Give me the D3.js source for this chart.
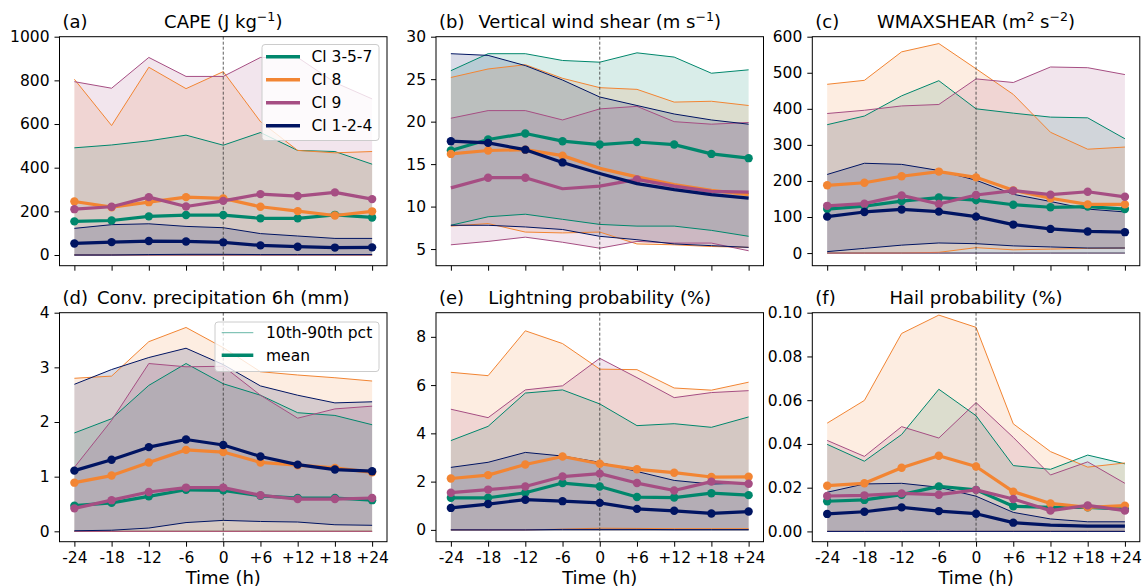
<!DOCTYPE html>
<html>
<head>
<meta charset="utf-8">
<script src="https://cdn.jsdelivr.net/npm/d3@7"></script>
<style>
  body { margin: 0; background: #fff; }
  text { font-family: "DejaVu Sans", sans-serif; }
</style>
</head>
<body>
<svg id="fig" width="1143" height="588"></svg>
<script>
// time steps relative to the event
var hours = [-24, -18, -12, -6, 0, 6, 12, 18, 24];
var hourLabels = ["-24", "-18", "-12", "-6", "0", "+6", "+12", "+18", "+24"];
var classes = ["Cl 3-5-7", "Cl 8", "Cl 9", "Cl 1-2-4"];
var colors = ["#00876c", "#f28533", "#a64e83", "#001462"];

// (a) CAPE  -- rows: Cl 3-5-7, Cl 8, Cl 9, Cl 1-2-4
var capeMean = [
  [154, 158, 177, 183, 183, 168, 168, 184, 172],
  [245, 219, 242, 265, 259, 221, 201, 181, 200],
  [210, 221, 265, 222, 248, 279, 270, 287, 256],
  [53, 59, 64, 62, 58, 44, 38, 34, 35]];
var capeP90 = [
  [491, 504, 523, 549, 503, 561, 479, 474, 416],
  [805, 593, 860, 762, 840, 611, 479, 468, 474],
  [794, 764, 905, 818, 818, 905, 905, 790, 715],
  [122, 139, 143, 131, 125, 98, 87, 76, 76]];
var capeP10 = [
  [0, 0, 0, 0, 0, 0, 0, 0, 0],
  [0, 0, 0, 0, 0, 0, 0, 0, 0],
  [0, 0, 0, 0, 0, 0, 0, 0, 0],
  [0, 0, 2, 3, 3, 2, 2, 2, 2]];

// (b) vertical wind shear
var shearMean = [
  [16.6, 17.9, 18.6, 17.7, 17.3, 17.6, 17.3, 16.2, 15.7],
  [16.2, 16.6, 16.7, 16.0, 14.5, 13.5, 12.6, 11.9, 11.4],
  [12.2, 13.4, 13.4, 12.1, 12.4, 13.2, 12.4, 11.8, 11.7],
  [17.7, 17.5, 16.7, 15.2, 13.9, 12.7, 12.0, 11.4, 11.0]];
var shearP90 = [
  [26.0, 28.0, 28.0, 27.2, 27.0, 28.1, 27.6, 25.7, 26.1],
  [25.2, 26.2, 26.7, 25.1, 24.0, 23.8, 22.3, 22.4, 21.9],
  [20.4, 21.3, 21.3, 20.2, 21.5, 21.8, 20.0, 19.7, 19.9],
  [28.0, 27.8, 26.6, 24.9, 22.9, 21.9, 20.9, 20.2, 19.7]];
var shearP10 = [
  [7.8, 8.8, 9.1, 8.5, 7.9, 7.7, 7.7, 7.2, 6.5],
  [7.7, 8.0, 7.0, 6.9, 7.0, 5.6, 5.5, 5.3, 5.2],
  [5.5, 5.9, 6.4, 5.8, 5.1, 5.9, 5.7, 5.7, 4.8],
  [7.8, 7.8, 7.6, 7.3, 6.5, 6.1, 5.6, 5.4, 5.2]];
var shearMarks = [
  [1, 1, 1, 1, 1, 1, 1, 1, 1],
  [1, 1, 1, 1, 0, 0, 0, 0, 0],
  [0, 1, 1, 0, 0, 1, 0, 0, 0],
  [1, 1, 1, 1, 0, 0, 0, 0, 0]];

// (c) WMAXSHEAR
var wmaxMean = [
  [122, 130, 144, 154, 147, 134, 127, 129, 122],
  [188, 195, 213, 226, 210, 174, 152, 135, 135],
  [131, 137, 160, 136, 161, 173, 162, 170, 156],
  [101, 114, 121, 115, 101, 79, 67, 60, 58]];
var wmaxP90 = [
  [356, 380, 436, 478, 400, 388, 377, 375, 317],
  [468, 479, 558, 581, 511, 440, 335, 288, 294],
  [387, 396, 408, 412, 483, 473, 516, 514, 495],
  [218, 249, 246, 229, 202, 163, 143, 122, 114]];
var wmaxP10 = [
  [0, 0, 0, 0, 0, 0, 0, 0, 0],
  [0, 0, 0, 2, 15, 9, 11, 13, 14],
  [0, 0, 0, 0, 0, 0, 0, 0, 0],
  [4, 13, 22, 28, 26, 20, 17, 14, 14]];

// (d) convective precipitation 6h
var precMean = [
  [0.47, 0.52, 0.64, 0.76, 0.75, 0.65, 0.61, 0.61, 0.57],
  [0.89, 1.02, 1.26, 1.49, 1.45, 1.26, 1.21, 1.16, 1.08],
  [0.42, 0.57, 0.72, 0.80, 0.80, 0.66, 0.59, 0.59, 0.61],
  [1.11, 1.31, 1.54, 1.68, 1.58, 1.37, 1.22, 1.13, 1.10]];
var precP90 = [
  [1.80, 2.06, 2.67, 3.07, 2.70, 2.49, 2.17, 2.12, 1.95],
  [2.80, 2.84, 3.47, 3.73, 3.36, 2.92, 2.86, 2.81, 2.75],
  [1.17, 2.03, 3.07, 3.01, 3.02, 2.49, 2.07, 2.24, 2.29],
  [2.69, 2.96, 3.18, 3.35, 3.05, 2.66, 2.49, 2.35, 2.37]];
var precP10 = [
  [0, 0, 0, 0, 0, 0, 0, 0, 0],
  [0, 0, 0, 0, 0, 0, 0, 0, 0],
  [0, 0, 0, 0, 0, 0, 0, 0, 0],
  [0.01, 0.02, 0.06, 0.16, 0.20, 0.18, 0.17, 0.12, 0.11]];

// (e) lightning probability
var lightMean = [
  [1.33, 1.33, 1.54, 1.94, 1.80, 1.36, 1.34, 1.52, 1.44],
  [2.13, 2.27, 2.71, 3.04, 2.74, 2.51, 2.37, 2.19, 2.20],
  [1.54, 1.67, 1.80, 2.21, 2.33, 1.94, 1.63, 2.00, 1.91],
  [0.91, 1.07, 1.25, 1.19, 1.12, 0.87, 0.79, 0.68, 0.76]];
var lightP90 = [
  [3.70, 4.29, 5.67, 5.80, 5.22, 4.32, 4.40, 4.25, 4.68],
  [6.53, 6.39, 8.25, 7.72, 6.66, 6.64, 5.88, 5.79, 6.12],
  [5.00, 4.65, 5.80, 5.97, 7.11, 6.31, 5.48, 5.69, 5.77],
  [2.59, 2.80, 3.21, 3.06, 2.80, 2.42, 2.05, 1.90, 1.94]];
var lightP10 = [
  [0, 0, 0, 0, 0, 0, 0, 0, 0],
  [0, 0, 0, 0.03, 0.07, 0.06, 0.05, 0.05, 0.05],
  [0, 0, 0, 0, 0, 0, 0, 0, 0],
  [0, 0, 0, 0.02, 0.02, 0.02, 0.01, 0.01, 0.01]];

// (f) hail probability
var hailMean = [
  [0.0138, 0.0144, 0.0168, 0.0206, 0.0190, 0.0115, 0.0110, 0.0110, 0.0102],
  [0.0209, 0.0220, 0.0291, 0.0346, 0.0297, 0.0182, 0.0128, 0.0110, 0.0118],
  [0.0162, 0.0165, 0.0174, 0.0168, 0.0190, 0.0148, 0.0095, 0.0119, 0.0095],
  [0.0080, 0.0090, 0.0110, 0.0093, 0.0081, 0.0040, 0.0029, 0.0024, 0.0024]];
var hailP90 = [
  [0.0398, 0.0321, 0.0443, 0.0650, 0.0529, 0.0301, 0.0284, 0.0349, 0.0309],
  [0.0495, 0.0599, 0.0905, 0.0989, 0.0933, 0.0492, 0.0365, 0.0294, 0.0313],
  [0.0416, 0.0343, 0.0479, 0.0427, 0.0589, 0.0430, 0.0258, 0.0318, 0.0220],
  [0.0179, 0.0217, 0.0220, 0.0202, 0.0161, 0.0087, 0.0057, 0.0044, 0.0044]];
var hailP10 = [
  [0, 0, 0, 0, 0, 0, 0, 0, 0],
  [0, 0, 0, 0, 0, 0, 0, 0, 0],
  [0, 0, 0, 0, 0, 0, 0, 0, 0],
  [0, 0, 0, 0, 0, 0, 0, 0, 0]];
var hailMarks = [
  [1, 1, 1, 1, 1, 1, 1, 1, 1],
  [1, 1, 1, 1, 1, 1, 1, 1, 1],
  [1, 1, 1, 1, 1, 1, 1, 1, 1],
  [1, 1, 1, 1, 1, 1, 0, 0, 0]];

var allMarks = [1, 1, 1, 1].map(function () { return hours.map(function () { return 1; }); });

var panels = [
  { label: "(a)", title: [["CAPE (J kg", 0], ["\u22121", 1], [")", 0]],
    mean: capeMean, p10: capeP10, p90: capeP90, marks: allMarks,
    yDomain: [-49, 1000], yTicks: [0, 200, 400, 600, 800, 1000], fmt: d3.format("d") },
  { label: "(b)", title: [["Vertical wind shear (m s", 0], ["\u22121", 1], [")", 0]],
    mean: shearMean, p10: shearP10, p90: shearP90, marks: shearMarks,
    yDomain: [3.04, 30], yTicks: [5, 10, 15, 20, 25, 30], fmt: d3.format("d") },
  { label: "(c)", title: [["WMAXSHEAR (m", 0], ["2", 1], [" s", 0], ["\u22122", 1], [")", 0]],
    mean: wmaxMean, p10: wmaxP10, p90: wmaxP90, marks: allMarks,
    yDomain: [-35, 600], yTicks: [0, 100, 200, 300, 400, 500, 600], fmt: d3.format("d") },
  { label: "(d)", title: [["Conv. precipitation 6h (mm)", 0]],
    mean: precMean, p10: precP10, p90: precP90, marks: allMarks,
    yDomain: [-0.19, 4], yTicks: [0, 1, 2, 3, 4], fmt: d3.format("d") },
  { label: "(e)", title: [["Lightning probability (%)", 0]],
    mean: lightMean, p10: lightP10, p90: lightP90, marks: allMarks,
    yDomain: [-0.49, 9], yTicks: [0, 2, 4, 6, 8], fmt: d3.format("d") },
  { label: "(f)", title: [["Hail probability (%)", 0]],
    mean: hailMean, p10: hailP10, p90: hailP90, marks: hailMarks,
    yDomain: [-0.0047, 0.10], yTicks: [0, 0.02, 0.04, 0.06, 0.08, 0.10], fmt: d3.format(".2f") }
];

var svg = d3.select("#fig");
svg.append("rect").attr("width", 1143).attr("height", 588).attr("fill", "#fff");

var lefts = [59.5, 436, 812.3], tops = [36.7, 312.7];
var w = 327.5, h = 229;
var tickFont = 15.5, titleFont = 18;

panels.forEach(function (p, i) {
  var x0 = lefts[i % 3], y0 = tops[Math.floor(i / 3)];
  var x = d3.scaleLinear().domain([-26.4, 26.4]).range([x0, x0 + w]);
  var y = d3.scaleLinear().domain(p.yDomain).range([y0 + h, y0]);
  var g = svg.append("g");

  // 10th-90th percentile bands
  classes.forEach(function (c, k) {
    var area = d3.area()
      .x(function (d, j) { return x(hours[j]); })
      .y0(function (d, j) { return y(p.p10[k][j]); })
      .y1(function (d) { return y(d); });
    g.append("path").datum(p.p90[k]).attr("d", area)
      .attr("fill", colors[k]).attr("fill-opacity", 0.15);
  });

  var line = d3.line().x(function (d, j) { return x(hours[j]); }).y(function (d) { return y(d); });
  classes.forEach(function (c, k) {
    [p.p10[k], p.p90[k]].forEach(function (arr) {
      g.append("path").datum(arr).attr("d", line)
        .attr("fill", "none").attr("stroke", colors[k]).attr("stroke-width", 1);
    });
  });

  // event time
  g.append("line").attr("x1", x(0)).attr("x2", x(0)).attr("y1", y0).attr("y2", y0 + h)
    .attr("stroke", "#333").attr("stroke-width", 0.8).attr("stroke-dasharray", "3,2");

  // means
  classes.forEach(function (c, k) {
    g.append("path").datum(p.mean[k]).attr("d", line)
      .attr("fill", "none").attr("stroke", colors[k]).attr("stroke-width", 3.2)
      .attr("stroke-linejoin", "round");
    g.selectAll(null).data(p.mean[k].map(function (v, j) { return { v: v, j: j }; })
        .filter(function (d) { return p.marks[k][d.j]; }))
      .enter().append("circle")
      .attr("cx", function (d) { return x(hours[d.j]); })
      .attr("cy", function (d) { return y(d.v); })
      .attr("r", 4.2).attr("fill", colors[k]);
  });

  // axes
  var xAxis = d3.axisBottom(x).tickValues(hours).tickSize(5).tickPadding(5).tickSizeOuter(0)
    .tickFormat(function (d, j) { return i < 3 ? "" : hourLabels[j]; });
  var gx = svg.append("g").attr("transform", "translate(0," + (y0 + h) + ")").call(xAxis);
  var yAxis = d3.axisLeft(y).tickValues(p.yTicks).tickSize(5).tickPadding(5).tickSizeOuter(0)
    .tickFormat(p.fmt);
  var gy = svg.append("g").attr("transform", "translate(" + x0 + ",0)").call(yAxis);
  [gx, gy].forEach(function (ax) {
    ax.select(".domain").remove();
    ax.attr("font-size", tickFont).attr("font-family", "DejaVu Sans, sans-serif");
    ax.selectAll("line").attr("stroke", "#000").attr("stroke-width", 1);
    ax.selectAll("text").attr("fill", "#000");
  });

  svg.append("rect").attr("x", x0).attr("y", y0).attr("width", w).attr("height", h)
    .attr("fill", "none").attr("stroke", "#000").attr("stroke-width", 1);

  // titles
  svg.append("text").attr("x", x0 + 3).attr("y", y0 - 8.5)
    .attr("font-size", titleFont).text(p.label);
  var t = svg.append("text").attr("x", x0 + w / 2).attr("y", y0 - 8.5)
    .attr("font-size", titleFont).attr("text-anchor", "middle");
  var up = false;
  p.title.forEach(function (part) {
    var ts = t.append("tspan").text(part[0]);
    if (part[1]) { ts.attr("font-size", titleFont * 0.7).attr("dy", up ? 0 : -7); up = true; }
    else if (up) { ts.attr("dy", 7); up = false; }
  });

  if (i >= 3) {
    svg.append("text").attr("x", x0 + w / 2).attr("y", 584).attr("text-anchor", "middle")
      .attr("font-size", titleFont).text("Time (h)");
  }
});

// class legend in (a)
var lg = svg.append("g");
lg.append("rect").attr("x", 262).attr("y", 44.5).attr("width", 117).attr("height", 96).attr("rx", 3)
  .attr("fill", "#fff").attr("fill-opacity", 0.8).attr("stroke", "#ccc").attr("stroke-width", 1);
classes.forEach(function (c, k) {
  var yy = 56.7 + k * 23;
  lg.append("line").attr("x1", 266).attr("x2", 300).attr("y1", yy).attr("y2", yy)
    .attr("stroke", colors[k]).attr("stroke-width", 3.5);
  lg.append("text").attr("x", 311.5).attr("y", yy + 5.6).attr("font-size", tickFont).text(c);
});

// style legend in (d)
var sg = svg.append("g");
sg.append("rect").attr("x", 215).attr("y", 322).attr("width", 164).attr("height", 49.5).attr("rx", 3)
  .attr("fill", "#fff").attr("fill-opacity", 0.8).attr("stroke", "#ccc").attr("stroke-width", 1);
[["10th-90th pct", 1, 0.6], ["mean", 3.5, 1]].forEach(function (s, k) {
  var yy = 332.7 + k * 22.6;
  sg.append("line").attr("x1", 221.7).attr("x2", 253.3).attr("y1", yy).attr("y2", yy)
    .attr("stroke", colors[0]).attr("stroke-width", s[1]).attr("stroke-opacity", s[2]);
  sg.append("text").attr("x", 266).attr("y", yy + 5.6).attr("font-size", tickFont).text(s[0]);
});
</script>
</body>
</html>
